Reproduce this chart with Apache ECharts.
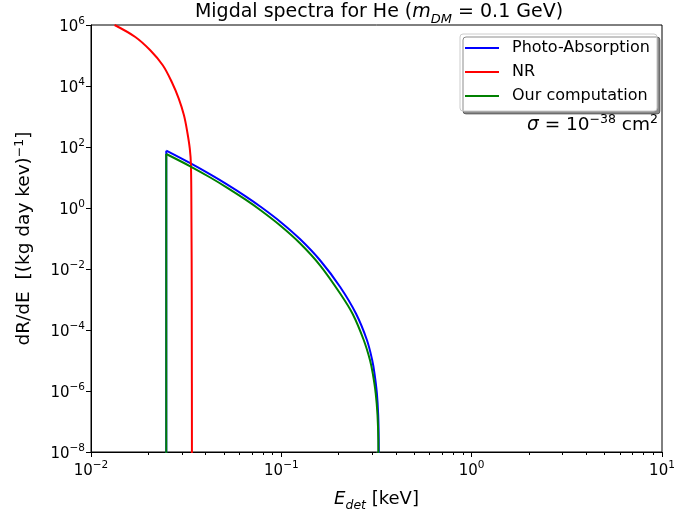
<!DOCTYPE html>
<html>
<head>
<meta charset="utf-8">
<script src="https://cdn.jsdelivr.net/npm/echarts@6/dist/echarts.min.js"></script>
<style>
  html, body { margin: 0; padding: 0; background: #fff; }
  #chart { width: 676px; height: 513px; }
</style>
</head>
<body>
<div id="chart"></div>
<script>
// Photo-absorption Migdal spectrum: detected energy [keV] and rate [(kg day keV)^-1]
const photoE = [0.02486, 0.03322, 0.04232, 0.05179, 0.06463, 0.0775, 0.09867, 0.1257, 0.1601,
                0.2038, 0.2473, 0.2816, 0.3001, 0.3086, 0.3177, 0.3228, 0.3248, 0.3259];
const photoR = [75.7, 29.4, 12.6, 5.94, 2.46, 1.12, 0.356, 0.0941, 0.0190,
                2.57e-3, 3.35e-4, 4.70e-5, 1.04e-5, 3.80e-6, 8.41e-7, 1.63e-7, 2.47e-8, 1e-10];

// Nuclear recoil spectrum
const nrE = [0.0133, 0.01709, 0.02048, 0.02383, 0.02657, 0.02891, 0.03079, 0.03205, 0.03304, 0.03351,
             0.03371, 0.03384, 0.03392];
const nrR = [1e6, 4.04e5, 1.48e5, 4.78e4, 1.35e4, 3.84e3, 1.09e3, 310, 87.9, 25.7,
             0.404, 9.64e-4, 1e-10];

// Our computation
const ourE = [0.02486, 0.03322, 0.04232, 0.05179, 0.06463, 0.0775, 0.09867, 0.1257, 0.1601,
              0.2038, 0.2371, 0.2709, 0.2922, 0.3022, 0.3132, 0.3201, 0.3232, 0.3243];
const ourR = [58.9, 23.3, 10.0, 4.67, 1.91, 0.860, 0.267, 0.0686, 0.0130,
              1.57e-3, 3.35e-4, 4.70e-5, 1.04e-5, 3.80e-6, 8.41e-7, 1.63e-7, 2.47e-8, 1e-10];

// Rate below the plotted range, used for the threshold edges
const floorRate = 1e-10;

const seriesNames = ['Photo-Absorption', 'NR', 'Our computation'];
const seriesColors = ['#0000ff', '#ff0000', '#008000'];

const xMajorTicks = [0.01, 0.1, 1, 10];
const xMinorTicks = [0.02, 0.03, 0.04, 0.05, 0.06, 0.07, 0.08, 0.09,
                     0.2, 0.3, 0.4, 0.5, 0.6, 0.7, 0.8, 0.9,
                     2, 3, 4, 5, 6, 7, 8, 9];
const yTicks = [1e-8, 1e-6, 1e-4, 1e-2, 1, 1e2, 1e4, 1e6];

const FONT = 'DejaVu Sans';

function pairs(xs, ys) { return xs.map((x, i) => [x, ys[i]]); }

// 10^n tick label as rich text
function powLabel(v) {
  const e = Math.round(Math.log10(v));
  const s = e < 0 ? '\u2212' + Math.abs(e) : String(e);
  return '{b|10}{s|' + s + '}';
}

const powRich = {
  b: { fontFamily: FONT, fontSize: 15, color: '#000', verticalAlign: 'bottom' },
  s: { fontFamily: FONT, fontSize: 10.5, color: '#000', padding: [0, 0, 8, 0], verticalAlign: 'bottom' }
};

function txt(size, extra) {
  return Object.assign({ fontFamily: FONT, fontSize: size, fontWeight: 'normal', color: '#000', verticalAlign: 'bottom' }, extra || {});
}

const chart = echarts.init(document.getElementById('chart'), null, { renderer: 'canvas' });

const lineSeries = (i, data, smooth) => ({
  name: seriesNames[i], type: 'line', data: data,
  showSymbol: false, symbol: 'none', clip: true, smooth: smooth,
  lineStyle: { color: seriesColors[i], width: 2 }, itemStyle: { color: seriesColors[i] }
});

// vertical edge at the threshold energy of a spectrum
const edge = (xs, ys) => [[xs[0], floorRate], [xs[0], ys[0]]];

const option = {
  backgroundColor: '#fff',
  animation: false,
  title: {
    text: '{n|Migdal spectra for He (}{i|m}{sub|DM}{n| = 0.1 GeV)}',
    left: 374, textAlign: 'center', top: -2,
    textStyle: {
      fontWeight: 'normal',
      rich: {
        n: txt(19),
        i: txt(19, { fontStyle: 'italic' }),
        sub: txt(13, { fontStyle: 'italic', padding: [0, 0, -4, 0] })
      }
    }
  },
  grid: {
    left: 91, right: 14, top: 25, bottom: 61,
    containLabel: false, outerBoundsMode: 'none',
    show: true, borderColor: '#000', borderWidth: 1, backgroundColor: '#fff'
  },
  legend: {
    data: seriesNames,
    orient: 'vertical',
    left: 460, top: 34,
    icon: 'rect',
    itemWidth: 34, itemHeight: 2.2, itemGap: 6,
    padding: [5, 7, 6, 5],
    backgroundColor: '#fff',
    borderColor: '#cccccc', borderWidth: 1, borderRadius: 3,
    shadowColor: 'rgba(0,0,0,0.45)', shadowBlur: 0, shadowOffsetX: 3, shadowOffsetY: 3,
    textStyle: { fontFamily: FONT, fontSize: 16, color: '#000', lineHeight: 18, padding: [0, 0, 0, 8] }
  },
  graphic: [{
    type: 'text',
    right: 18, top: 113,
    style: {
      text: '{g|\u03c3}{n| = 10}{s|\u221238}{n| cm}{s|2}',
      rich: {
        g: txt(18.5, { fontStyle: 'italic' }),
        n: txt(18.5),
        s: txt(12.5, { padding: [0, 0, 9, 0] })
      }
    }
  }],
  xAxis: [{
    type: 'log', logBase: 10, min: 0.01, max: 10,
    position: 'bottom',
    axisLine: { show: true, onZero: false, lineStyle: { color: '#000', width: 1 } },
    axisTick: { show: true, length: 5, lineStyle: { color: '#000' }, customValues: xMajorTicks },
    axisLabel: { color: '#000', margin: 8, formatter: powLabel, rich: powRich, customValues: xMajorTicks },
    splitLine: { show: false },
    name: '{i|E}{sub|det}{n| [keV]}',
    nameLocation: 'middle', nameGap: 38,
    nameTextStyle: {
      rich: {
        i: txt(18, { fontStyle: 'italic' }),
        sub: txt(12.5, { fontStyle: 'italic', padding: [0, 0, -4, 0] }),
        n: txt(18)
      }
    }
  }, {
    type: 'log', logBase: 10, min: 0.01, max: 10,
    position: 'bottom',
    axisLine: { show: false, onZero: false },
    axisTick: { show: true, length: 3, lineStyle: { color: '#000' }, customValues: xMinorTicks },
    axisLabel: { show: false },
    splitLine: { show: false }
  }],
  yAxis: {
    type: 'log', logBase: 10, min: 1e-8, max: 1e6,
    axisLine: { show: true, onZero: false, lineStyle: { color: '#000', width: 1 } },
    axisTick: { show: true, length: 5, lineStyle: { color: '#000' }, customValues: yTicks },
    axisLabel: { color: '#000', margin: 6, formatter: powLabel, rich: powRich, customValues: yTicks },
    splitLine: { show: false },
    name: '{n|dR/dE  [(kg day kev)}{s|\u22121}{n|]}',
    nameLocation: 'middle', nameGap: 57, nameRotate: 90,
    nameTextStyle: {
      rich: {
        n: txt(18.5),
        s: txt(12.5, { padding: [0, 0, 8, 0] })
      }
    }
  },
  series: [
    lineSeries(0, edge(photoE, photoR), false),
    lineSeries(0, pairs(photoE, photoR), 0.35),
    lineSeries(1, pairs(nrE, nrR), 0.35),
    lineSeries(2, edge(ourE, ourR), false),
    lineSeries(2, pairs(ourE, ourR), 0.35)
  ]
};

chart.setOption(option);
</script>
</body>
</html>
